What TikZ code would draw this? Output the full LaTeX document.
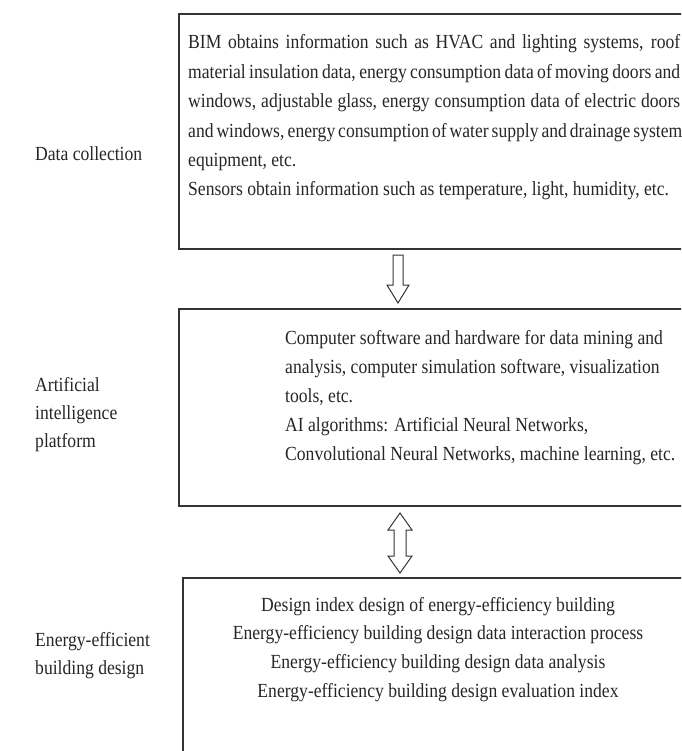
\documentclass[tikz,border=0pt]{standalone}
\usepackage{fontspec}
\setmainfont{Liberation Serif}[FakeStretch=0.88]
\begin{document}
\begin{tikzpicture}[x=1pt,y=-1pt,
  stage/.style={draw=black!80,line width=1.6pt,inner sep=0pt,anchor=north west},
  body/.style={inner sep=0pt,anchor=base west,text=black!85},
  blockarrow/.style={draw=black!80,line width=1pt,fill=white,line join=miter}]
\useasboundingbox (0,0) rectangle (681,751);
\clip (0,0) rectangle (681,751);

% stage boxes (right and lower edges run past the page)
\node[stage,minimum width=520pt,minimum height=235pt] (b1) at (178,13) {};
\node[stage,minimum width=520pt,minimum height=197pt] (b2) at (178,308) {};
\node[stage,minimum width=520pt,minimum height=200pt] (b3) at (182,577) {};

% box contents
\node[body] (t1) at (188,49) {\parbox[t]{492pt}{\fontsize{20}{29.4}\selectfont
  \makebox[492pt][s]{BIM obtains information such as HVAC and lighting systems, roof}\\
  \makebox[492pt][s]{material insulation data, energy consumption data of moving doors and}\\
  \makebox[492pt][s]{windows, adjustable glass, energy consumption data of electric doors}\\
  \makebox[492pt][s]{and windows, energy consumption of water supply and drainage system}\\
  equipment, etc.\\
  Sensors obtain information such as temperature, light, humidity, etc.}};

\node[body] (t2) at (285,344) {\parbox[t]{440pt}{\raggedright\fontsize{20}{29}\selectfont
  Computer software and hardware for data mining and\\
  analysis, computer simulation software, visualization\\
  tools, etc.\\
  AI algorithms: Artificial Neural Networks,\\
  Convolutional Neural Networks, machine learning, etc.}};

\node[body,anchor=base] (t3) at (438,611) {\parbox[t]{480pt}{\centering\fontsize{20}{28.7}\selectfont
  Design index design of energy-efficiency building\\
  Energy-efficiency building design data interaction process\\
  Energy-efficiency building design data analysis\\
  Energy-efficiency building design evaluation index}};

% stage labels
\node[body] (l1) at (35,161) {\parbox[t]{140pt}{\fontsize{20}{28}\selectfont Data collection}};
\node[body] (l2) at (35,391) {\parbox[t]{140pt}{\fontsize{20}{28}\selectfont Artificial\\intelligence\\platform}};
\node[body] (l3) at (35,646) {\parbox[t]{140pt}{\fontsize{20}{28}\selectfont Energy-efficient\\building design}};

% hollow block arrows between the stages
\coordinate (a1) at (398,255);
\draw[blockarrow] (a1) ++(-5,0) -- ++(0,30) -- ++(-6,0) -- (398,303)
  -- (409,285) -- ++(-6,0) -- ++(0,-30) -- cycle;
\coordinate (a2) at (400,513);
\draw[blockarrow] (a2) -- (412,530) -- ++(-6,0) -- ++(0,26) -- ++(6,0)
  -- (400,573) -- (388,556) -- ++(6,0) -- ++(0,-26) -- ++(-6,0) -- cycle;
\end{tikzpicture}
\end{document}
